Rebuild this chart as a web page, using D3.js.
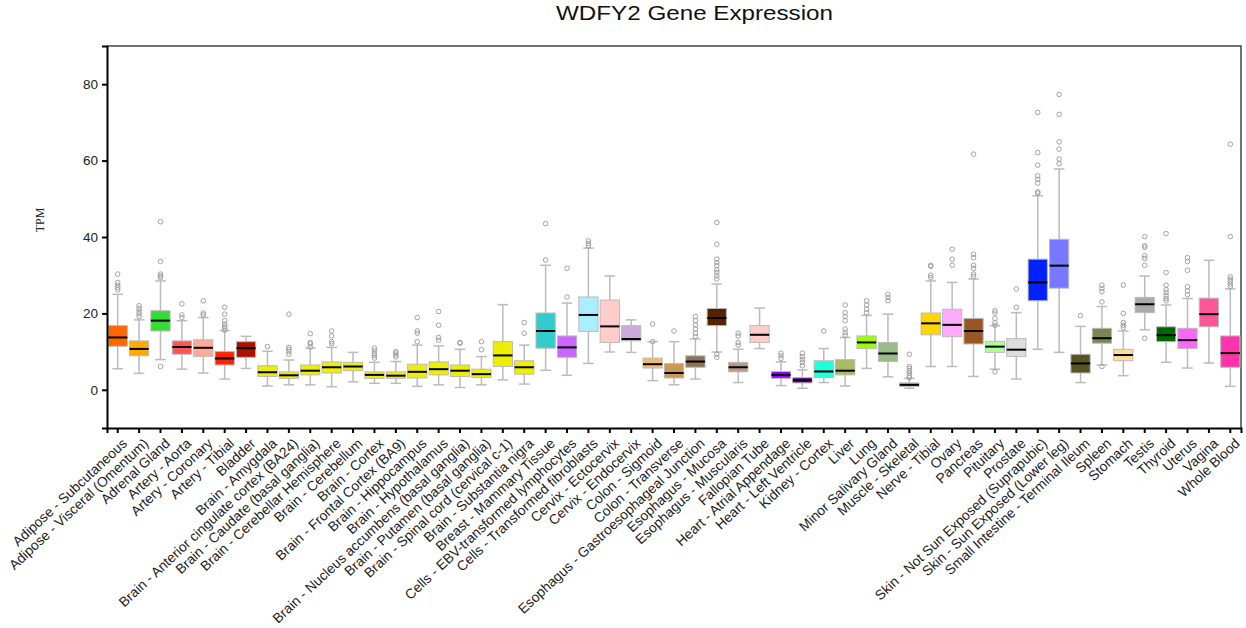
<!DOCTYPE html>
<html>
<head>
<meta charset="utf-8">
<script src="https://cdn.jsdelivr.net/npm/d3@7"></script>
<style>
  body { margin: 0; background: #fff; }
  svg { display: block; font-family: "Liberation Sans", Arial, sans-serif; }
  .axis path, .axis line { stroke: #000; stroke-width: 2; }
  .axis text { fill: #222; }
</style>
</head>
<body>
<svg id="chart" width="1246" height="628"></svg>
<script>
// tissues along the x axis
var tissues = [
  "Adipose - Subcutaneous", "Adipose - Visceral (Omentum)", "Adrenal Gland", "Artery - Aorta",
  "Artery - Coronary", "Artery - Tibial", "Bladder", "Brain - Amygdala",
  "Brain - Anterior cingulate cortex (BA24)", "Brain - Caudate (basal ganglia)",
  "Brain - Cerebellar Hemisphere", "Brain - Cerebellum", "Brain - Cortex",
  "Brain - Frontal Cortex (BA9)", "Brain - Hippocampus", "Brain - Hypothalamus",
  "Brain - Nucleus accumbens (basal ganglia)", "Brain - Putamen (basal ganglia)",
  "Brain - Spinal cord (cervical c-1)", "Brain - Substantia nigra", "Breast - Mammary Tissue",
  "Cells - EBV-transformed lymphocytes", "Cells - Transformed fibroblasts", "Cervix - Ectocervix",
  "Cervix - Endocervix", "Colon - Sigmoid", "Colon - Transverse",
  "Esophagus - Gastroesophageal Junction", "Esophagus - Mucosa", "Esophagus - Muscularis",
  "Fallopian Tube", "Heart - Atrial Appendage", "Heart - Left Ventricle", "Kidney - Cortex",
  "Liver", "Lung", "Minor Salivary Gland", "Muscle - Skeletal", "Nerve - Tibial", "Ovary",
  "Pancreas", "Pituitary", "Prostate", "Skin - Not Sun Exposed (Suprapubic)",
  "Skin - Sun Exposed (Lower leg)", "Small Intestine - Terminal Ileum", "Spleen", "Stomach",
  "Testis", "Thyroid", "Uterus", "Vagina", "Whole Blood"
];

// box stats (TPM)
var q1 = [11.4, 8.9, 15.4, 9.3, 8.7, 6.5, 8.5, 3.5, 3.0, 3.9, 4.4, 5.0, 3.0, 3.0, 3.1, 3.9, 3.5, 3.2, 6.1, 4.1, 10.9,
  8.5, 15.3, 12.4, 12.8, 5.7, 3.1, 5.9, 16.8, 4.7, 12.4, 3.0, 1.8, 3.2, 3.9, 10.8, 7.4, 0.9, 14.4, 13.9,
  12.0, 9.8, 8.7, 23.3, 26.6, 4.4, 12.2, 7.6, 20.2, 12.6, 10.8, 16.5, 5.9];
var median = [13.7, 10.7, 18.1, 11.2, 11.0, 8.2, 10.9, 4.6, 3.8, 5.0, 5.9, 6.1, 3.9, 3.7, 4.7, 5.4, 5.0, 4.1, 9.0, 5.9, 15.4,
  11.1, 19.6, 16.6, 13.3, 6.7, 4.4, 7.4, 18.8, 5.9, 14.4, 3.9, 2.5, 4.8, 5.0, 12.4, 9.5, 1.3, 17.4, 17.0,
  15.4, 11.3, 10.5, 28.1, 32.5, 6.9, 13.5, 9.1, 22.4, 14.3, 13.0, 19.8, 9.6];
var q3 = [16.8, 12.8, 20.7, 12.8, 13.1, 10.0, 12.6, 6.3, 4.7, 6.5, 7.3, 7.2, 4.7, 4.7, 6.7, 7.3, 6.5, 5.4, 12.6, 7.6, 20.1,
  14.1, 24.3, 23.5, 16.8, 8.3, 6.9, 8.9, 21.3, 7.2, 16.8, 4.8, 3.2, 7.6, 7.9, 14.1, 12.4, 1.8, 20.1, 21.1,
  18.7, 12.7, 13.4, 34.2, 39.4, 9.3, 16.1, 10.6, 24.2, 16.5, 16.1, 24.0, 14.1];
var whiskerLow = [5.5, 4.3, 7.9, 5.4, 4.4, 2.8, 5.6, 1.0, 1.3, 1.3, 0.8, 2.1, 1.7, 1.7, 0.9, 1.3, 0.6, 1.3, 2.6, 1.5, 5.1,
  3.8, 6.9, 9.9, 9.8, 2.4, 1.3, 2.8, 9.9, 1.9, 10.8, 1.1, 0.4, 1.9, 1.0, 5.6, 3.4, 0.4, 6.1, 6.1,
  3.5, 5.4, 2.8, 10.6, 9.8, 1.9, 6.5, 3.7, 15.7, 7.2, 5.7, 7.0, 0.9];
var whiskerHigh = [25.0, 18.3, 28.5, 18.1, 18.9, 15.5, 14.0, 10.1, 7.8, 10.9, 11.1, 9.8, 7.2, 7.4, 11.7, 11.5, 10.6, 8.7, 22.3, 11.7, 32.6,
  22.7, 37.1, 29.8, 18.3, 12.6, 12.6, 13.3, 27.7, 10.6, 21.4, 7.3, 5.2, 10.8, 13.7, 19.5, 19.8, 3.0, 28.5, 28.1,
  29.0, 16.8, 20.2, 50.8, 57.8, 16.6, 21.8, 15.4, 29.8, 22.2, 23.9, 33.9, 26.4];
var outliers = [
  [30.3, 28.1, 27.4, 26.8, 26.2],
  [22.0, 21.3, 20.6, 19.9, 19.2],
  [44.0, 33.6, 30.3, 29.8, 29.4, 6.1],
  [22.5, 19.6, 18.9],
  [23.3, 20.1, 19.6],
  [21.6, 19.8, 18.1, 17.2, 16.6, 16.1, 15.6],
  [],
  [11.3],
  [19.8, 11.1, 10.6, 10.0, 9.3],
  [14.7, 12.4, 12.0, 11.2],
  [15.4, 14.1, 12.6, 12.1],
  [],
  [10.9, 10.2, 9.5, 8.9, 8.3],
  [10.0, 9.6, 9.1, 8.6],
  [18.9, 15.4, 14.8, 12.6],
  [20.5, 16.9, 13.7, 13.0],
  [12.4, 12.2],
  [12.6, 10.5],
  [],
  [17.6, 14.8],
  [43.5, 34.0],
  [31.8, 24.3],
  [39.0, 38.3, 37.7],
  [],
  [],
  [17.2, 12.6],
  [15.4],
  [19.2, 18.1, 17.0, 15.9, 14.8, 14.0],
  [43.8, 38.1, 34.2, 33.3, 32.5, 31.4, 30.7, 29.8, 29.0, 9.3, 8.5],
  [14.8, 14.1, 12.4, 11.7],
  [],
  [9.6, 8.9, 8.2],
  [9.6, 8.7, 7.9, 7.2, 6.3],
  [15.4],
  [22.2, 20.2, 19.2, 18.1, 15.9, 15.0, 14.3],
  [23.3, 22.2, 21.1, 20.2],
  [25.0, 24.2, 23.3],
  [9.3, 6.1, 5.6, 5.0, 4.4, 3.7, 3.2],
  [32.6, 32.3, 30.0, 29.4],
  [36.8, 34.2, 32.6],
  [61.7, 35.5, 34.6, 32.6, 31.8, 30.3, 29.7],
  [20.7, 20.1, 18.7, 17.6, 16.9, 4.7],
  [26.4, 21.6],
  [72.6, 62.1, 58.8, 56.0, 55.1, 54.1, 51.8, 51.5],
  [77.3, 72.1, 64.9, 63.0, 60.4, 59.2],
  [19.4],
  [27.4, 26.5, 25.7, 23.0, 6.1],
  [27.4, 20.0, 17.6, 16.9, 16.3],
  [40.1, 37.7, 37.3, 35.1, 34.4, 32.6, 13.5],
  [40.9, 30.7, 27.4, 26.2, 25.5, 24.6, 23.9, 23.3],
  [34.6, 33.6, 31.3, 27.0, 25.9, 24.9],
  [],
  [64.3, 40.1, 29.6, 29.0, 28.4, 27.7, 27.1]
];

// GTEx tissue colours
var colors = ["#FF6600", "#FFAA00", "#33DD33", "#FF5555", "#FFAA99", "#FF2200", "#AA1100", "#EEEE00",
  "#EEEE00", "#EEEE00", "#EEEE00", "#EEEE00", "#EEEE00", "#EEEE00", "#EEEE00", "#EEEE00", "#EEEE00",
  "#EEEE00", "#EEEE00", "#EEEE00", "#33CCCC", "#CC66FF", "#AAEEFF", "#FFCCCC", "#CCAADD", "#EEBB77",
  "#CC9955", "#8B7355", "#552200", "#BB9988", "#FFCCCC", "#9900FF", "#660099", "#22FFDD", "#AABB66",
  "#99FF00", "#99BB88", "#AAAAFF", "#FFD700", "#FFAAFF", "#995522", "#AAFF99", "#DDDDDD", "#0022FF",
  "#7777FF", "#555522", "#778855", "#FFDD99", "#AAAAAA", "#006600", "#FF66FF", "#FF5599", "#FF33AA"];

var yTicks = [0, 20, 40, 60, 80];

var plotLeft = 107, plotRight = 1241, plotTop = 46, plotBottom = 428;

var svg = d3.select("#chart");

var x = d3.scaleBand()
    .domain(tissues)
    .range([plotLeft, plotRight])
    .paddingInner(0.1)
    .paddingOuter(0.05);

var y = d3.scaleLinear()
    .domain([-10, 90])
    .range([plotBottom, plotTop]);

// title
svg.append("text")
    .attr("x", 556)
    .attr("y", 20)
    .attr("font-size", 21)
    .attr("textLength", 277)
    .attr("lengthAdjust", "spacingAndGlyphs")
    .attr("fill", "#111")
    .text("WDFY2 Gene Expression");

// frame (top + right)
svg.append("path")
    .attr("d", "M" + plotLeft + "," + plotTop + "H" + plotRight + "V" + plotBottom)
    .attr("fill", "none")
    .attr("stroke", "#444")
    .attr("stroke-width", 1.5);

// boxes
var cx = function (i) { return x(tissues[i]) + x.bandwidth() / 2; };
var bw = x.bandwidth();
var capW = bw * 0.55;

var g = svg.append("g").selectAll("g")
    .data(tissues)
    .enter().append("g");

g.append("line")
    .attr("x1", function (d, i) { return cx(i); })
    .attr("x2", function (d, i) { return cx(i); })
    .attr("y1", function (d, i) { return y(whiskerLow[i]); })
    .attr("y2", function (d, i) { return y(whiskerHigh[i]); })
    .attr("stroke", "#bbb")
    .attr("stroke-width", 1.5);

g.append("line")
    .attr("x1", function (d, i) { return cx(i) - capW / 2; })
    .attr("x2", function (d, i) { return cx(i) + capW / 2; })
    .attr("y1", function (d, i) { return y(whiskerHigh[i]); })
    .attr("y2", function (d, i) { return y(whiskerHigh[i]); })
    .attr("stroke", "#bbb")
    .attr("stroke-width", 1.5);

g.append("line")
    .attr("x1", function (d, i) { return cx(i) - capW / 2; })
    .attr("x2", function (d, i) { return cx(i) + capW / 2; })
    .attr("y1", function (d, i) { return y(whiskerLow[i]); })
    .attr("y2", function (d, i) { return y(whiskerLow[i]); })
    .attr("stroke", "#bbb")
    .attr("stroke-width", 1.5);

g.append("rect")
    .attr("x", function (d) { return x(d); })
    .attr("width", bw)
    .attr("y", function (d, i) { return y(q3[i]); })
    .attr("height", function (d, i) { return y(q1[i]) - y(q3[i]); })
    .attr("fill", function (d, i) { return colors[i]; })
    .attr("stroke", "#bbb")
    .attr("stroke-width", 1);

g.append("line")
    .attr("x1", function (d) { return x(d); })
    .attr("x2", function (d) { return x(d) + bw; })
    .attr("y1", function (d, i) { return y(median[i]); })
    .attr("y2", function (d, i) { return y(median[i]); })
    .attr("stroke", "#000")
    .attr("stroke-width", 2);

g.selectAll("circle")
    .data(function (d, i) { return outliers[i].map(function (v) { return { i: i, v: v }; }); })
    .enter().append("circle")
    .attr("cx", function (d) { return cx(d.i); })
    .attr("cy", function (d) { return y(d.v); })
    .attr("r", 2.3)
    .attr("fill", "none")
    .attr("stroke", "#999")
    .attr("stroke-width", 0.9);

// y axis
svg.append("g")
    .attr("class", "axis")
    .attr("transform", "translate(" + plotLeft + ",0)")
    .call(d3.axisLeft(y).tickValues(yTicks).tickSize(5).tickPadding(4))
    .selectAll("text")
    .attr("font-size", 13.5);

svg.append("text")
    .attr("transform", "translate(44,220) rotate(-90)")
    .attr("text-anchor", "middle")
    .attr("font-family", "'Liberation Serif', serif")
    .attr("font-size", 12)
    .attr("fill", "#222")
    .text("TPM");

// x axis
var xAxis = svg.append("g")
    .attr("class", "axis")
    .attr("transform", "translate(0," + plotBottom + ")")
    .call(d3.axisBottom(x).tickSize(5));

xAxis.selectAll("text")
    .attr("font-size", 13.8)
    .attr("text-anchor", "end")
    .attr("y", 0)
    .attr("dy", "0.35em")
    .attr("transform", "translate(7,13) rotate(-43)");
</script>
</body>
</html>
